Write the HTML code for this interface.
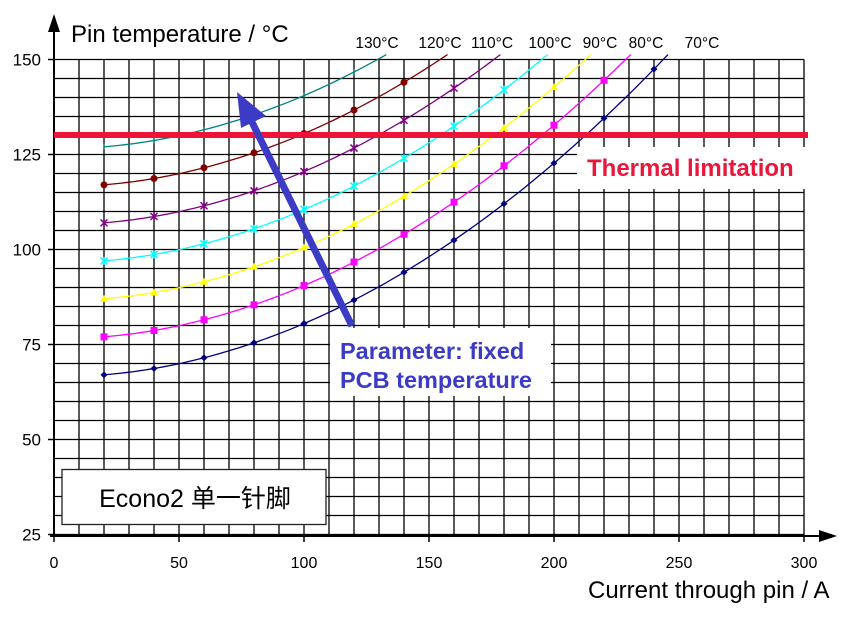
<!DOCTYPE html>
<html><head><meta charset="utf-8"><style>
html,body{margin:0;padding:0;background:#fff;width:848px;height:620px;overflow:hidden}
svg{display:block;font-family:"Liberation Sans",Arial,sans-serif}
</style></head><body>
<svg id="s" width="848" height="620" xmlns="http://www.w3.org/2000/svg"></svg>
<script>
const s=document.getElementById('s');
const X=i=>54+2.5*i, Y=t=>59.5+(150-t)*3.8;
let h='';
for(let i=0;i<=300;i+=10){h+=`<line x1="${X(i)}" y1="59.5" x2="${X(i)}" y2="536" stroke="#000" stroke-width="1.3"/>`;}
for(let t=25;t<=150;t+=5){h+=`<line x1="54" y1="${Y(t)}" x2="${X(300)}" y2="${Y(t)}" stroke="#000" stroke-width="1.3"/>`;}
h+=`<rect x="577" y="147" width="232" height="42" fill="#fff"/>`;
h+=`<rect x="330" y="328" width="221" height="68" fill="#fff"/>`;
h+=`<line x1="54" y1="537" x2="54" y2="28" stroke="#000" stroke-width="2"/><polygon points="54,14 48,32 60,32" fill="#000"/>`;
h+=`<line x1="50" y1="536" x2="822" y2="536" stroke="#000" stroke-width="2"/><polygon points="837,536 819,530 819,542" fill="#000"/>`;
for(let t=25;t<=150;t+=25){h+=`<line x1="48" y1="${Y(t)}" x2="54" y2="${Y(t)}" stroke="#000" stroke-width="1.5"/><text x="41" y="${Y(t)+6}" font-size="17" text-anchor="end">${t}</text>`;}
for(let i=0;i<=300;i+=50){h+=`<line x1="${X(i)}" y1="536" x2="${X(i)}" y2="542" stroke="#000" stroke-width="1.5"/><text x="${X(i)}" y="568" font-size="16" text-anchor="middle">${i}</text>`;}
const cols=['#000080','#ff00ff','#ffff00','#00ffff','#800080','#800000','#008080'];
for(let k=0;k<7;k++){
  const T=i=>66.44+10*k+0.001407*i*i;
  const iend=Math.sqrt((151.3-66.44-10*k)/0.001407);
  let p=[];
  for(let i=20;i<iend;i+=2)p.push(X(i).toFixed(1)+','+Y(T(i)).toFixed(1));
  p.push(X(iend).toFixed(1)+','+Y(T(iend)).toFixed(1));
  h+=`<polyline points="${p.join(' ')}" fill="none" stroke="${cols[k]}" stroke-width="1.3"/>`;
  for(let i=20;i<=240;i+=20){const t=T(i);if(t>150.5)continue;const x=X(i),y=Y(t),c=cols[k];
    if(k==0)h+=`<polygon points="${x},${y-3.5} ${x+3.5},${y} ${x},${y+3.5} ${x-3.5},${y}" fill="${c}"/>`;
    else if(k==1)h+=`<rect x="${x-3.5}" y="${y-3.5}" width="7" height="7" fill="${c}"/>`;
    else if(k==2)h+=`<polygon points="${x},${y-4} ${x+4},${y+3} ${x-4},${y+3}" fill="${c}"/>`;
    else if(k==3||k==4)h+=`<path d="M${x-3.5} ${y-3.5}L${x+3.5} ${y+3.5}M${x+3.5} ${y-3.5}L${x-3.5} ${y+3.5}M${x} ${y-4}V${y+4}" stroke="${c}" stroke-width="1.5"/>`;
    else if(k==5)h+=`<circle cx="${x}" cy="${y}" r="3.5" fill="${c}"/>`;
    else h+=`<path d="M${x} ${y-3}V${y+3}" stroke="${c}" stroke-width="1.2"/>`;
  }
}
h+=`<line x1="54" y1="135" x2="808" y2="135" stroke="#ee1438" stroke-width="6"/>`;
h+=`<line x1="352" y1="326" x2="250" y2="118" stroke="#3b3bc6" stroke-width="7"/><polygon points="237,92 266,116 241,128" fill="#3b3bc6"/>`;
h+=`<text x="71" y="42" font-size="24">Pin temperature / °C</text>`;
const L=[['130°C',377],['120°C',440],['110°C',492],['100°C',550],['90°C',600],['80°C',646],['70°C',702]];
L.forEach(a=>h+=`<text x="${a[1]}" y="48" font-size="15.5" text-anchor="middle">${a[0]}</text>`);
h+=`<text x="588" y="598" font-size="24">Current through pin / A</text>`;
h+=`<text x="587" y="176" font-size="24" font-weight="bold" fill="#e8173c">Thermal limitation</text>`;
h+=`<text x="340" y="359" font-size="23.5" font-weight="bold" fill="#3b3bc6">Parameter: fixed</text>`;
h+=`<text x="340" y="388" font-size="23.5" font-weight="bold" fill="#3b3bc6">PCB temperature</text>`;
h+=`<rect x="62" y="469.5" width="264" height="55" fill="#fff" stroke="#222" stroke-width="1.3"/>`;
h+=`<text x="195" y="507" font-size="25" text-anchor="middle" font-family="'Liberation Sans','Noto Sans CJK SC',sans-serif">Econo2 单一针脚</text>`;
s.innerHTML=h;
</script>
</body></html>
